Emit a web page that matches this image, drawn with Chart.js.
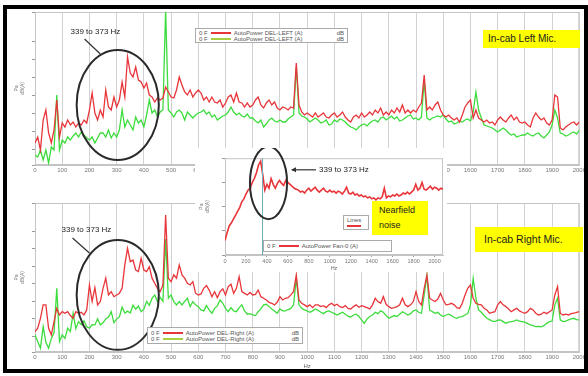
<!DOCTYPE html>
<html>
<head>
<meta charset="utf-8">
<script src="https://cdn.jsdelivr.net/npm/chart.js@4.4.0/dist/chart.umd.min.js"></script>
<style>
  body { margin: 0; width: 588px; height: 376px; position: relative; overflow: hidden; background: #fff;
         font-family: "Liberation Sans", Arial, sans-serif; }
  canvas { position: absolute; }
  .panel { position: absolute; background: #fff; }
  .leg { position: absolute; background: #fff; border: 1px solid #aaa; box-sizing: border-box;
         font-size: 6px; line-height: 6px; color: #555; padding: 1px 3px; }
  .row { display: flex; align-items: center; height: 6px; white-space: nowrap; }
  .ln { display: inline-block; width: 20px; height: 1.5px; margin: 0 3px; }
  .u { margin-left: auto; }
  .tag { position: absolute; background: #ffff00; color: #222; white-space: nowrap; box-sizing: border-box; }
  .frame { position: absolute; left: 3px; top: 5px; width: 585px; height: 368px; border: 4px solid #000;
           box-sizing: border-box; z-index: 10; }
</style>
</head>
<body>
<canvas id="top" width="588" height="182" style="left:0;top:0"></canvas>
<canvas id="bottom" width="588" height="185" style="left:0;top:185px"></canvas>

<div class="panel" style="left:195px;top:148px;width:252px;height:124px">
  <canvas id="inset" width="252" height="124" style="left:0;top:0"></canvas>
</div>

<!-- legends -->
<div class="leg" style="left:195px;top:28px;width:153px;height:15px">
  <div class="row"><span>0 F</span><span class="ln" style="background:#e8353a"></span><span>AutoPower DEL-LEFT (A)</span><span class="u">dB</span></div>
  <div class="row"><span>0 F</span><span class="ln" style="background:#a8d040"></span><span>AutoPower DEL-LEFT (A)</span><span class="u">dB</span></div>
</div>
<div class="leg" style="left:147px;top:327px;width:156px;height:17px;padding-top:2px">
  <div class="row"><span>0 F</span><span class="ln" style="background:#e8353a"></span><span>AutoPower DEL-Right (A)</span><span class="u">dB</span></div>
  <div class="row"><span>0 F</span><span class="ln" style="background:#a8d040"></span><span>AutoPower DEL-Right (A)</span><span class="u">dB</span></div>
</div>
<div class="leg" style="left:263px;top:240px;width:129px;height:12px;padding-top:2px">
  <div class="row"><span>0 F</span><span class="ln" style="background:#e8353a"></span><span>AutoPower Fan-0 (A)</span></div>
</div>
<div class="leg" style="left:343px;top:215px;width:26px;height:15px">
  <div class="row"><span>Lines</span></div>
  <div class="row"><span class="ln" style="background:#e8353a;width:14px;margin:0"></span></div>
</div>

<!-- yellow notes -->
<div class="tag" style="left:483px;top:30px;width:97px;height:18px;font-size:10px;line-height:18px;padding-left:5px">In-cab Left Mic.</div>
<div class="tag" style="left:475px;top:227px;width:108px;height:25px;font-size:10.5px;line-height:25px;padding-left:9px">In-cab Right Mic.</div>
<div class="tag" style="left:372px;top:201px;width:56px;height:34px;font-size:9px;line-height:15px;padding:2px 0 0 7px">Nearfield<br>noise</div>

<div class="frame"></div>

<script>
// ---------- DATOS ----------
// espectros 0..2000 Hz cada 10 Hz, en dB(A)
const freqStep = 10;

const leftRed = [
  21, 24, 17.5, 32.5, 37.5, 26, 21, 27.5, 42.5, 24,
  31, 29, 32.5, 30, 31.5, 29, 31, 30, 32.5, 31,
  37.5, 46, 36, 32.5, 37.5, 34, 47.5, 39, 37.5, 44,
  39, 42.5, 51.5, 44, 64, 56, 54, 59, 52.5, 51.5,
  48.5, 51, 45, 44, 41.5, 43.5, 42.5, 43.5, 49, 46.5,
  44, 43.5, 47.5, 54, 50, 46.5, 45, 47.5, 44, 46,
  47.5, 46, 42.5, 44, 41.5, 44, 41.5, 41, 42.5, 39,
  41, 44, 45, 41.5, 46, 41.5, 41, 39, 41, 39,
  40, 42.5, 44, 40, 38.5, 41, 42.5, 40, 41.5, 38.5,
  37.5, 39, 38.5, 37.5, 39, 38.5, 61, 40, 36.5, 35,
  36, 35, 34, 36, 34, 35, 36, 34, 33.5, 35,
  36, 34, 35, 36.5, 34, 32.5, 31.5, 34, 35, 33.5,
  36, 34, 35, 36.5, 35, 37.5, 36, 38.5, 35, 36.5,
  35, 37.5, 36, 38.5, 36.5, 40, 36, 37.5, 36, 37.5,
  36.5, 39, 41, 55, 37.5, 39, 37.5, 40, 41.5, 37.5,
  35, 34, 35, 33.5, 32.5, 33.5, 31.5, 35, 39, 41,
  42.5, 33.5, 37.5, 33.5, 32.5, 31.5, 32.5, 31, 31.5, 30,
  32.5, 34, 32.5, 31.5, 33.5, 35, 32.5, 34, 31.5, 31,
  31.5, 30, 29, 33.5, 36, 34, 32.5, 33.5, 31, 30,
  32.5, 45, 44, 28.5, 27.5, 29, 30, 31, 31.5, 30,
  31.5
];

const leftGreen = [
  15, 14, 17.5, 12.5, 17.5, 11, 19, 17.5, 45, 17.5,
  22.5, 21, 24, 22.5, 24.5, 26, 24, 26.5, 25, 23.5,
  22.5, 24, 21, 23.5, 26, 26, 24, 27.5, 23.5, 26,
  24, 27.5, 37.5, 29, 32.5, 30, 27.5, 34, 31, 32.5,
  29, 35, 42.5, 36, 37.5, 34, 36.5, 37.5, 87.5, 37.5,
  36, 34, 36.5, 37.5, 36, 32.5, 36.5, 35, 33.5, 35,
  36, 36.5, 37.5, 35.5, 36.5, 34, 35, 32.5, 33.5, 34.5,
  35, 36.5, 39, 36.5, 35, 36, 34.5, 34, 35.5, 33.5,
  33.5, 32, 31, 32.5, 29, 30.5, 32.5, 33.5, 32, 31.5,
  32.5, 31.5, 31.5, 33, 34, 35, 59, 36, 34.5, 34,
  33, 31.5, 32.5, 33.5, 32.5, 31, 31.5, 32.5, 30, 30.5,
  32.5, 31.5, 33, 32.5, 31.5, 30, 29, 28.5, 27.5, 29,
  30, 30.5, 29.5, 31, 32, 32.5, 31.5, 33.5, 34, 32.5,
  33.5, 34.5, 33, 34, 32, 32.5, 33.5, 34.5, 35, 33,
  33.5, 32.5, 34, 52.5, 33.5, 32.5, 33.5, 34, 34.5, 34,
  35, 33, 31.5, 32, 30.5, 31, 32, 31.5, 32.5, 33,
  32, 36.5, 46.5, 37.5, 33.5, 30, 29.5, 29, 28.5, 27.5,
  26.5, 27.5, 28.5, 27.5, 26, 25, 25.5, 24, 24.5, 25,
  25, 26, 25, 24.5, 25.5, 26, 24.5, 23.5, 25, 26.5,
  30, 37.5, 33.5, 26, 25.5, 24.5, 25, 26, 26.5, 25.5,
  27.5
];

const rightRed = [
  20.5, 22.2, 27.3, 34.2, 34.2, 22.2, 18.8, 25.6, 32.5, 29,
  30.7, 29.9, 30.7, 28.7, 27.3, 30.7, 29.9, 30.4, 29, 31.6,
  44.4, 36, 43, 34.2, 35.9, 42.7, 47.9, 39.3, 41, 38.4,
  39.3, 40.2, 42.7, 54.7, 63.2, 56.4, 57.2, 52.1, 51.3, 58.1,
  52.1, 51.3, 53.8, 47.9, 45.3, 42.7, 41, 44.4, 80.3, 47.9,
  46.1, 49.6, 47.9, 54.7, 49.6, 47.9, 45.3, 44.4, 46.1, 40.2,
  39.3, 39.8, 42.7, 44.1, 41.8, 38.4, 41, 37.9, 41, 42.4,
  39.3, 43.6, 44.8, 40.1, 42.7, 48.7, 41, 40.1, 39.3, 40.6,
  39.3, 39.6, 41.8, 38.4, 37.6, 36.7, 35.5, 35, 34.2, 35.5,
  38.4, 36.7, 37.6, 37.9, 39.3, 41, 49.5, 36.7, 35, 34.2,
  33.3, 34.2, 32.8, 34.2, 34.2, 33.3, 33.8, 32.8, 34.2, 35,
  33.8, 34.5, 33.3, 32.8, 33.8, 32.4, 32.1, 33.3, 34.2, 33,
  33.8, 33.3, 32.8, 32.1, 34.2, 37.6, 35.9, 35, 38.4, 34.5,
  33.3, 32.4, 32.8, 33.3, 34.2, 37.6, 34.2, 33.3, 34.2, 35.9,
  41, 35.9, 34.2, 42.7, 49.5, 37.6, 36.7, 35.9, 37.2, 40.1,
  36.7, 34.2, 34.5, 35, 34.2, 32.8, 32.4, 35, 39.3, 42.7,
  44.4, 37.6, 35, 34.5, 34.2, 32.4, 31.6, 29.9, 30.4, 30.7,
  34.2, 35.9, 34.2, 33.3, 32.1, 30.7, 31.6, 32.4, 31.1, 30.4,
  29.9, 30.7, 32.4, 31.6, 29.9, 29, 29.4, 30.4, 29.7, 30.7,
  31.6, 39.3, 43.6, 29.9, 29, 29.4, 29, 29.7, 29.9, 30.4,
  30.7
];

const rightGreen = [
  18.8, 15.4, 12, 23, 15, 12, 17, 20, 42.7, 15.4,
  18.8, 17, 22.2, 20.5, 30, 22, 25.6, 24, 26, 23,
  22.2, 24, 23.9, 27, 23.9, 25, 27, 28, 30.7, 25,
  27, 28, 33, 30, 31, 30, 34, 32, 33.6, 30.7,
  32, 36, 34, 37.6, 39.3, 35.9, 38, 36, 68, 37.6,
  39.3, 35.9, 34.2, 35.9, 34.2, 36, 37.6, 33.3, 35.9, 34.2,
  33.3, 31.6, 31.1, 33.8, 31.6, 29.9, 32.4, 33.8, 36.7, 35,
  32.4, 30.7, 32.8, 31.1, 30.7, 32.8, 34.2, 31.1, 29.4, 29.7,
  29, 28.7, 30.7, 32.1, 34.2, 34.5, 33.3, 32.1, 31.1, 29.9,
  32.1, 31.1, 31.1, 31.8, 32.4, 34.2, 47.8, 34.2, 32.4, 31.6,
  31.1, 30.4, 31.1, 32.1, 31.4, 30.4, 29.7, 30.7, 31.1, 30.4,
  29.7, 29, 29.7, 30.4, 29.4, 28.4, 28, 29, 29.4, 28.2,
  26.5, 24.7, 27, 28.2, 29, 30.4, 29.7, 31.1, 30.4, 28.7,
  27.3, 28, 28.7, 28.2, 29.4, 30.7, 29.9, 29, 29.7, 31.1,
  31.6, 30.4, 29.9, 39.3, 49.2, 31.6, 30.7, 29.9, 30.4, 29,
  28.2, 29, 29.4, 28.7, 27.7, 27.3, 28, 28.2, 29, 29.7,
  34.2, 47.8, 37.6, 31.6, 30.4, 28.7, 27.3, 26.6, 25.9, 25.6,
  26.3, 26.5, 25.6, 24.7, 25.3, 25.6, 25.9, 26.5, 25.9, 25.6,
  25.3, 24.6, 23.9, 23.5, 23, 23.2, 22.9, 23.5, 24.7, 25.6,
  25.9, 34.2, 37.6, 26.5, 25.6, 25.9, 26.5, 27, 27.3, 26.6,
  26.5
];

// ventilador (campo cercano), 0..2080 Hz cada 20 Hz
const fanStep = 20;
const fanNear = [
  32, 38.4, 44, 46.4, 49.6, 52.8, 56, 59.2, 64, 66.4,
  70.4, 73.6, 75.2, 80, 83.2, 88, 94.4, 97.6, 86.4, 73.6,
  78.4, 75.2, 83.2, 78.4, 75.2, 79.2, 81.6, 79.2, 77.6, 81.6,
  80, 78.4, 76.8, 75.2, 74.4, 73.6, 72, 72.8, 71.2, 73.6,
  75.2, 72.8, 74.4, 76, 73.6, 72, 73.6, 75.2, 72.8, 72,
  73.6, 72, 72.8, 71.2, 72.8, 72, 70.4, 72.8, 76, 71.2,
  70.4, 72, 69.6, 70.4, 68.8, 69.6, 68, 68.8, 67.2, 68,
  66.4, 67.2, 65.6, 67.2, 66.4, 68, 75.2, 67.2, 68.8, 68,
  69.6, 68.8, 70.4, 68.8, 69.6, 71.2, 70.4, 72, 70.4, 72,
  73.6, 78.4, 73.6, 75.2, 80, 74.4, 73.6, 75.2, 76.8, 74.4,
  76, 75.2, 73.6, 75.2, 74.4
];
const fanTicks = [0, 200, 400, 600, 800, 1000, 1200, 1400, 1600, 1800, 2000];

const bandLabel = '339 to 373 Hz';

// ---------- PLUGIN DE ANOTACIONES ----------
const annot = {
  id: 'annot',
  beforeDatasetsDraw(chart) {
    const a = chart.chartArea, ctx = chart.ctx;
    ctx.save();
    ctx.strokeStyle = '#c4c4c4';
    ctx.lineWidth = 1;
    ctx.strokeRect(a.left + 0.5, a.top + 0.5, a.width - 1, a.height - 1);
    ctx.restore();
  },
  afterDatasetsDraw(chart, args, o) {
    const { ctx, scales: { x, y } } = chart;
    const px = f => x.getPixelForValue(f), py = v => y.getPixelForValue(v);
    ctx.save();
    (o.cursors || []).forEach(f => {
      ctx.strokeStyle = '#6fb0b8';
      ctx.lineWidth = 1;
      ctx.beginPath();
      ctx.moveTo(Math.round(px(f)) + 0.5, chart.chartArea.top);
      ctx.lineTo(Math.round(px(f)) + 0.5, chart.chartArea.bottom);
      ctx.stroke();
    });
    (o.ellipses || []).forEach(e => {
      const cx = px(e.f), cy = py(e.db);
      const rx = Math.abs(px(e.f + e.rf) - cx), ry = Math.abs(py(e.db + e.rdb) - cy);
      ctx.strokeStyle = '#2b2b2b';
      ctx.lineWidth = 2;
      ctx.beginPath();
      ctx.ellipse(cx, cy, rx, ry, 0, 0, Math.PI * 2);
      ctx.stroke();
    });
    (o.pointers || []).forEach(p => {
      const x0 = px(p.from[0]), y0 = py(p.from[1]), x1 = px(p.to[0]), y1 = py(p.to[1]);
      ctx.strokeStyle = '#333';
      ctx.fillStyle = '#333';
      ctx.lineWidth = 1.2;
      ctx.beginPath();
      ctx.moveTo(x0, y0);
      ctx.lineTo(x1, y1);
      ctx.stroke();
      if (p.arrow) {
        ctx.beginPath();
        ctx.moveTo(x0 - 1, y0);
        ctx.lineTo(x0 + 4, y0 - 2.5);
        ctx.lineTo(x0 + 4, y0 + 2.5);
        ctx.closePath();
        ctx.fill();
      }
    });
    (o.labels || []).forEach(t => {
      ctx.fillStyle = '#222';
      ctx.font = '8px "Liberation Sans", Arial, sans-serif';
      ctx.textAlign = t.align || 'center';
      ctx.textBaseline = 'middle';
      ctx.fillText(t.text, px(t.f), py(t.db));
    });
    ctx.restore();
  }
};

Chart.defaults.font.family = '"Liberation Sans", Arial, sans-serif';

function toXY(values, step) {
  return values.map((v, i) => ({ x: i * step, y: v }));
}

// etiquetas de frecuencia sin separador de miles
const hzLabel = v => String(v);

// ---------- GRÁFICA DE ESPECTRO ----------
function spectrum(id, red, green, pad, axisH, ann) {
  return new Chart(document.getElementById(id), {
    type: 'line',
    data: {
      datasets: [
        { data: toXY(red, freqStep), borderColor: '#e8353a', borderWidth: 1.3, pointRadius: 0 },
        { data: toXY(green, freqStep), borderColor: '#3cdc3c', borderWidth: 1.3, pointRadius: 0 }
      ]
    },
    options: {
      responsive: false,
      animation: false,
      events: [],
      layout: { autoPadding: false, padding: pad },
      plugins: { legend: { display: false }, tooltip: { enabled: false }, annot: ann },
      scales: {
        x: {
          type: 'linear', min: 0, max: 2000,
          ticks: { stepSize: 100, autoSkip: false, maxRotation: 0, padding: 2, color: '#777',
                   font: { size: 6 }, callback: hzLabel },
          grid: { color: '#d2d2d2', drawTicks: false },
          border: { color: '#c4c4c4' },
          title: { display: true, text: 'Hz', color: '#666', font: { size: 6 }, padding: 0 },
          afterFit: s => { s.height = axisH; }
        },
        y: {
          min: 10, max: 86.5,
          ticks: { stepSize: 9, callback: () => '' },
          grid: { drawOnChartArea: false, tickLength: 3, color: '#999' },
          border: { color: '#c4c4c4' },
          title: { display: true, text: ['Pa', 'dB(A)'], color: '#777', font: { size: 5 }, padding: 0 },
          afterFit: s => { s.width = 21; }
        }
      }
    },
    plugins: [annot]
  });
}

spectrum('top', leftRed, leftGreen, { left: 14, right: 4, top: 12, bottom: 0 }, 17, {
  ellipses: [{ f: 304, db: 40, rf: 151, rdb: 27.5 }],
  pointers: [{ from: [182, 73], to: [240, 65.5] }],
  labels: [{ text: bandLabel, f: 222, db: 76.5 }]
});

spectrum('bottom', rightRed, rightGreen, { left: 14, right: 4, top: 18, bottom: 0 }, 18, {
  ellipses: [{ f: 304, db: 39.3, rf: 151, rdb: 28.2 }],
  pointers: [{ from: [138, 68.5], to: [200, 60.8] }],
  labels: [{ text: bandLabel, f: 189, db: 72.6 }]
});

// ---------- RECUADRO: RUIDO DE CAMPO CERCANO ----------
new Chart(document.getElementById('inset'), {
  type: 'line',
  data: {
    datasets: [{ data: toXY(fanNear, fanStep), borderColor: '#e8353a', borderWidth: 1.6, pointRadius: 0 }]
  },
  options: {
    responsive: false,
    animation: false,
    events: [],
    layout: { autoPadding: false, padding: { left: 4, right: 4, top: 7, bottom: 0 } },
    plugins: {
      legend: { display: false }, tooltip: { enabled: false },
      annot: {
        cursors: [353],
        ellipses: [{ f: 415, db: 79.6, rf: 177, rdb: 30 }],
        pointers: [{ from: [639, 90.4], to: [868, 90.4], arrow: true }],
        labels: [{ text: bandLabel, f: 897, db: 90.4, align: 'left' }]
      }
    },
    scales: {
      x: {
        type: 'linear', min: 0, max: 2080,
        afterBuildTicks: s => { s.ticks = fanTicks.map(v => ({ value: v })); },
        ticks: { autoSkip: false, maxRotation: 0, padding: 1, color: '#777',
                 font: { size: 5.5 }, callback: hzLabel },
        grid: { drawOnChartArea: false, tickLength: 2, color: '#999' },
        border: { color: '#c4c4c4' },
        title: { display: true, text: 'Hz', color: '#666', font: { size: 5.5 }, padding: 0 },
        afterFit: s => { s.height = 17; }
      },
      y: {
        min: 20, max: 100,
        ticks: { stepSize: 10, callback: () => '' },
        grid: { drawOnChartArea: false, tickLength: 3, color: '#999' },
        border: { color: '#c4c4c4' },
        title: { display: true, text: ['Pa', 'dB(A)'], color: '#777', font: { size: 5 }, padding: 0 },
        afterFit: s => { s.width = 26; }
      }
    }
  },
  plugins: [annot]
});
</script>
</body>
</html>
